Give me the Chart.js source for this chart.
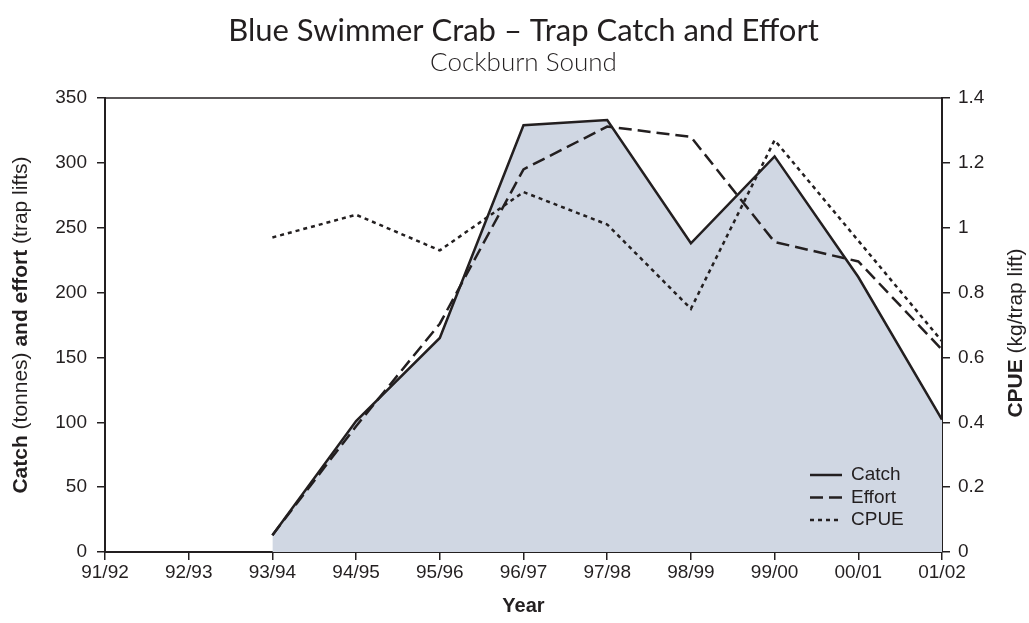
<!DOCTYPE html>
<html>
<head>
<meta charset="utf-8">
<script src="https://cdn.jsdelivr.net/npm/chart.js@4/dist/chart.umd.min.js"></script>
<style>
    body {margin: 0; background: #fff;}
    canvas {display: block;}
</style>
</head>
<body>
<canvas id="crabChart" width="1029" height="623"></canvas>
<script>
//data
const seasons = ['91/92', '92/93', '93/94', '94/95', '95/96', '96/97', '97/98', '98/99', '99/00', '00/01', '01/02'];
const catchTonnes = [null, null, 13, 101, 165, 329, 333, 238, 305, 212, 102];
const effortLifts = [null, null, 13, 97, 176, 295, 328, 320, 239, 224, 156];
const cpue = [null, null, 0.97, 1.04, 0.93, 1.11, 1.01, 0.75, 1.27, 0.96, 0.65];

const ink = '#231f20';
const fillColor = '#d0d7e3';
const sans = '"Liberation Sans", Arial, sans-serif';
const tickFont = {family: sans, size: 19};

//titles, axis titles with mixed bold, top frame and legend
const decorations = {
    id: 'decorations',
    afterDraw(chart) {
        const c = chart.ctx;
        const area = chart.chartArea;
        const midX = (area.left + area.right) / 2;
        const midY = (area.top + area.bottom) / 2;
        c.save();
        c.fillStyle = ink;
        c.textAlign = 'center';
        c.textBaseline = 'middle';
        c.font = '31px Lato, "Open Sans", sans-serif';
        c.fillText('Blue Swimmer Crab \u2013 Trap Catch and Effort', midX, 31);
        c.font = '300 26px Lato, "Open Sans", sans-serif';
        c.fillText('Cockburn Sound', midX, 63);

        c.font = 'bold 20px ' + sans;
        c.fillText('Year', midX, 606);

        // top frame line
        c.strokeStyle = ink;
        c.lineWidth = 1.5;
        c.beginPath();
        c.moveTo(area.left, area.top);
        c.lineTo(area.right, area.top);
        c.stroke();

        drawMixed(c, 21, midY, [['Catch', true], [' (tonnes) ', false], ['and effort', true], [' (trap lifts)', false]]);
        drawMixed(c, 1016, midY + 8, [['CPUE', true], [' (kg/trap lift)', false]]);

        // legend inside the plot
        const styles = chart.data.datasets;
        let y = 475;
        c.textAlign = 'left';
        c.font = '19px ' + sans;
        styles.forEach(ds => {
            c.strokeStyle = ink;
            c.lineWidth = 2.5;
            c.setLineDash(ds.borderDash || []);
            c.beginPath();
            c.moveTo(810, y);
            c.lineTo(842, y);
            c.stroke();
            c.setLineDash([]);
            c.fillText(ds.label, 851, y);
            y += 22.5;
        });
        c.restore();
    }
};

function drawMixed(c, x, y, parts) {
    c.save();
    c.translate(x, y);
    c.rotate(-Math.PI / 2);
    c.textAlign = 'left';
    c.textBaseline = 'middle';
    const fontFor = bold => (bold ? 'bold ' : '') + '21px ' + sans;
    let total = 0;
    parts.forEach(p => { c.font = fontFor(p[1]); total += c.measureText(p[0]).width; });
    let pos = -total / 2;
    parts.forEach(p => {
        c.font = fontFor(p[1]);
        c.fillText(p[0], pos, 0);
        pos += c.measureText(p[0]).width;
    });
    c.restore();
}

const ctx = document.getElementById('crabChart');
new Chart(ctx, {
    type: 'line',
    data: {
        labels: seasons,
        datasets: [{
                label: 'Catch',
                data: catchTonnes,
                yAxisID: 'y',
                borderColor: ink,
                borderWidth: 2.5,
                backgroundColor: fillColor,
                fill: 'origin',
                pointRadius: 0,
                tension: 0
            }, {
                label: 'Effort',
                data: effortLifts,
                yAxisID: 'y',
                borderColor: ink,
                borderWidth: 2.5,
                borderDash: [13, 6],
                fill: false,
                pointRadius: 0,
                tension: 0
            }, {
                label: 'CPUE',
                data: cpue,
                yAxisID: 'y2',
                borderColor: ink,
                borderWidth: 2.5,
                borderDash: [4, 4],
                fill: false,
                pointRadius: 0,
                tension: 0
            }]
    },
    options: {
        responsive: false,
        animation: false,
        layout: {padding: {top: 98}},
        scales: {
            x: {
                offset: false,
                afterFit: scale => { scale.height = 71; },
                border: {display: true, color: ink, width: 2},
                grid: {drawOnChartArea: false, color: ink, tickLength: 8, lineWidth: 1.5},
                ticks: {color: ink, font: tickFont, padding: 1, maxRotation: 0, autoSkip: false}
            },
            y: {
                position: 'left',
                min: 0,
                max: 350,
                afterFit: scale => { scale.width = 105; },
                border: {display: true, color: ink, width: 2},
                grid: {drawOnChartArea: false, color: ink, tickLength: 8, lineWidth: 1.5},
                ticks: {stepSize: 50, color: ink, font: tickFont, padding: 10}
            },
            y2: {
                position: 'right',
                min: 0,
                max: 1.4,
                afterFit: scale => { scale.width = 87; },
                border: {display: true, color: ink, width: 2},
                grid: {drawOnChartArea: false, color: ink, tickLength: 8, lineWidth: 1.5},
                ticks: {
                    stepSize: 0.2,
                    color: ink,
                    font: tickFont,
                    padding: 8,
                    callback: value => String(Number(value.toFixed(1)))
                }
            }
        },
        plugins: {
            legend: {display: false},
            tooltip: {enabled: false},
            filler: {drawTime: 'beforeDatasetsDraw'}
        }
    },
    plugins: [decorations]
});
</script>
</body>
</html>
